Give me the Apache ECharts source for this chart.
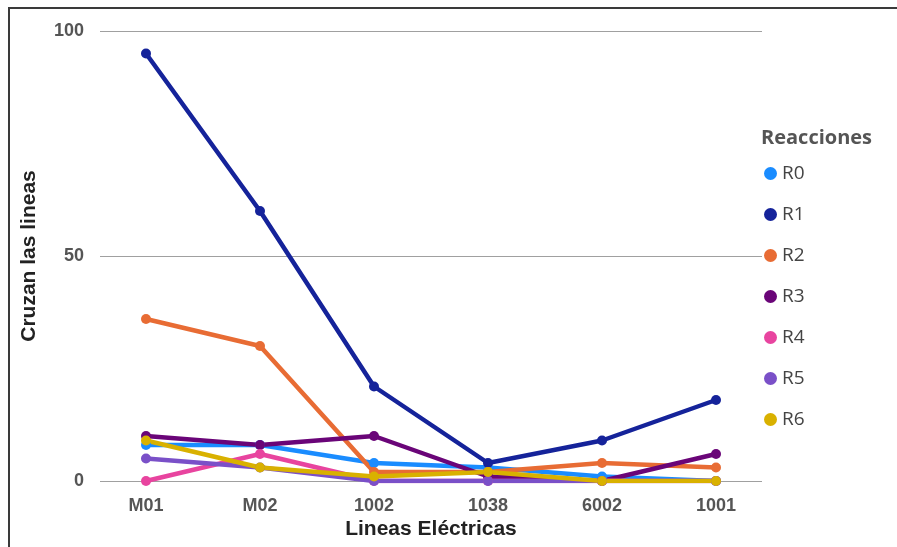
<!DOCTYPE html>
<html>
<head>
<meta charset="utf-8">
<script src="https://cdn.jsdelivr.net/npm/echarts@6/dist/echarts.min.js"></script>
<style>
html,body{margin:0;padding:0;background:#fff;}
#frame{position:absolute;left:8px;top:7px;width:1200px;height:1200px;border-left:2px solid #3a3a3a;border-top:2px solid #3a3a3a;}
#chart{position:absolute;left:0;top:0;width:897px;height:547px;}
</style>
</head>
<body>
<div id="frame"></div>
<div id="chart"></div>
<script>
const categories = ['M01', 'M02', '1002', '1038', '6002', '1001'];
const seriesNames = ['R0', 'R1', 'R2', 'R3', 'R4', 'R5', 'R6'];
const R0 = [8, 8, 4, 3, 1, 0];
const R1 = [95, 60, 21, 4, 9, 18];
const R2 = [36, 30, 2, 2, 4, 3];
const R3 = [10, 8, 10, 1, 0, 6];
const R4 = [0, 6, 0, 0, 0, 0];
const R5 = [5, 3, 0, 0, 0, 0];
const R6 = [9, 3, 1, 2, 0, 0];
const yTicks = [0, 50, 100];
const colors = ['#1a8cff', '#15239a', '#e86c34', '#6a0578', '#e8449f', '#7a50c8', '#d9b100'];
const seriesData = [R0, R1, R2, R3, R4, R5, R6];

const chart = echarts.init(document.getElementById('chart'));
const baseFont = 'Liberation Sans, Arial, sans-serif';
chart.setOption({
  animation: false,
  color: colors,
  title: {
    text: 'Reacciones', left: 761, top: 128, padding: 0,
    textStyle: {fontFamily: 'Open Sans, sans-serif', fontSize: 20, fontWeight: 'bold', color: '#555'}
  },
  legend: {
    data: seriesNames, orient: 'vertical', left: 764, top: 164, padding: 0,
    icon: 'circle', itemWidth: 13, itemHeight: 13, itemGap: 22,
    textStyle: {fontFamily: 'Open Sans, sans-serif', fontSize: 19, color: '#444', lineHeight: 19}
  },
  grid: [
    {left: 146, right: 181, top: 31, bottom: 66},
    {left: 100, right: 135, top: 31, bottom: 66}
  ],
  xAxis: [
    {
      type: 'category', gridIndex: 0, data: categories, boundaryGap: false,
      axisLine: {show: false}, axisTick: {show: false},
      axisLabel: {fontFamily: baseFont, fontSize: 18, fontWeight: 'bold', color: '#555', margin: 16}
    },
    {
      type: 'value', gridIndex: 1, min: 0, max: 1,
      axisLine: {show: false}, axisTick: {show: false}, axisLabel: {show: false}, splitLine: {show: false},
      name: 'Lineas Eléctricas', nameLocation: 'middle', nameGap: 38,
      nameTextStyle: {fontFamily: baseFont, fontSize: 21, fontWeight: 'bold', color: '#222'}
    }
  ],
  yAxis: [
    {
      type: 'value', gridIndex: 0, min: 0, max: 100, interval: 50,
      axisLine: {show: false}, axisTick: {show: false}, axisLabel: {show: false}, splitLine: {show: false}
    },
    {
      type: 'value', gridIndex: 1, min: yTicks[0], max: yTicks[yTicks.length - 1], interval: yTicks[1] - yTicks[0],
      axisLine: {show: false}, axisTick: {show: false},
      axisLabel: {fontFamily: baseFont, fontSize: 18, fontWeight: 'bold', color: '#555', margin: 16},
      splitLine: {lineStyle: {color: '#a0a0a0', width: 1}},
      name: 'Cruzan las lineas', nameLocation: 'middle', nameGap: 60, nameRotate: 90,
      nameTextStyle: {fontFamily: baseFont, fontSize: 21, fontWeight: 'bold', color: '#222'}
    }
  ],
  series: seriesNames.map((n, i) => ({
    name: n, type: 'line', xAxisIndex: 0, yAxisIndex: 0, data: seriesData[i],
    symbol: 'circle', symbolSize: 10, lineStyle: {width: 4.5},
    itemStyle: {color: colors[i]}
  }))
});
</script>
</body>
</html>
